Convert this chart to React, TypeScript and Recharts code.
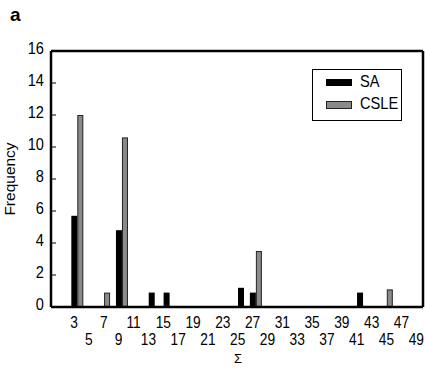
import React from "react";
import { BarChart, Bar, XAxis, YAxis, Label, ReferenceLine } from "recharts";

// Σ categories 0..49
const sums = [
  0, 1, 2, 3, 4, 5, 6, 7, 8, 9, 10, 11, 12, 13, 14, 15, 16, 17, 18, 19, 20, 21,
  22, 23, 24, 25, 26, 27, 28, 29, 30, 31, 32, 33, 34, 35, 36, 37, 38, 39, 40, 41,
  42, 43, 44, 45, 46, 47, 48, 49,
];

// frequencies, one per category
const saFreq = [
  0, 0, 0, 5.7, 0, 0, 0, 0, 0, 4.8, 0, 0, 0, 0.9, 0, 0.9, 0, 0, 0, 0, 0, 0, 0, 0,
  0, 1.2, 0, 0.9, 0, 0, 0, 0, 0, 0, 0, 0, 0, 0, 0, 0, 0, 0.9, 0, 0, 0, 0, 0, 0, 0,
  0,
];
const csleFreq = [
  0, 0, 0, 12, 0, 0, 0, 0.9, 0, 10.6, 0, 0, 0, 0, 0, 0, 0, 0, 0, 0, 0, 0, 0, 0, 0,
  0, 0, 3.5, 0, 0, 0, 0, 0, 0, 0, 0, 0, 0, 0, 0, 0, 0, 0, 0, 0, 1.1, 0, 0, 0, 0,
];

const yTicks = [0, 2, 4, 6, 8, 10, 12, 14, 16];
const topRowLabels = [3, 7, 11, 15, 19, 23, 27, 31, 35, 39, 43, 47];
const bottomRowLabels = [5, 9, 13, 17, 21, 25, 29, 33, 37, 41, 45, 49];

const data = sums.map((v, i) => ({ v, sa: saFreq[i], csle: csleFreq[i] }));

const FONT = "'Liberation Sans', Arial, sans-serif";
const NARROW = 0.86;
const BAR_W = 6;
const GRAY = "#8a8a8a";

const SaShape = (props: any) => {
  const { x, y, width, height, payload } = props;
  if (!height || height <= 0) return null;
  const center = x + width;
  const left = payload.csle > 0 ? center - BAR_W : center - BAR_W / 2;
  return <rect x={left} y={y} width={BAR_W} height={height} fill="#000" />;
};

const CsleShape = (props: any) => {
  const { x, y, height, payload } = props;
  if (!height || height <= 0) return null;
  const left = payload.sa > 0 ? x : x - BAR_W / 2;
  return (
    <rect
      x={left + 0.5}
      y={y + 0.5}
      width={BAR_W - 1}
      height={height - 0.5}
      fill={GRAY}
      stroke="#222"
      strokeWidth={1}
    />
  );
};

const SumTick = (props: any) => {
  const { x, payload } = props;
  const v = payload.value;
  let base = 0;
  if (topRowLabels.includes(v)) base = 328;
  else if (bottomRowLabels.includes(v)) base = 345;
  else return null;
  return (
    <text
      transform={`translate(${x - 3},${base}) scale(${NARROW},1)`}
      textAnchor="middle"
      fontFamily={FONT}
      fontSize={16}
      fill="#000"
    >
      {v}
    </text>
  );
};

const FreqTick = (props: any) => {
  const { x, y, payload } = props;
  return (
    <text
      transform={`translate(${x},${y + 3}) scale(${NARROW},1)`}
      textAnchor="end"
      fontFamily={FONT}
      fontSize={17}
      fill="#000"
    >
      {payload.value}
    </text>
  );
};

const LegendBox = () => (
  <div
    style={{
      position: "absolute",
      left: 312,
      top: 69,
      border: "1.5px solid #000",
      width: 90,
      height: 52,
      background: "#fff",
      fontFamily: FONT,
      fontSize: 17,
      boxSizing: "border-box",
    }}
  >
    <span style={{ position: "absolute", left: 13, top: 9, width: 26, height: 7, background: "#000" }} />
    <span
      style={{
        position: "absolute",
        left: 47,
        top: 2,
        transform: `scaleX(${NARROW})`,
        transformOrigin: "left center",
      }}
    >
      SA
    </span>
    <span
      style={{
        position: "absolute",
        left: 13,
        top: 31,
        width: 24,
        height: 6,
        background: GRAY,
        border: "1px solid #222",
      }}
    />
    <span
      style={{
        position: "absolute",
        left: 47,
        top: 24,
        transform: `scaleX(${NARROW})`,
        transformOrigin: "left center",
      }}
    >
      CSLE
    </span>
  </div>
);

export default function App() {
  return (
    <div style={{ position: "absolute", left: 0, top: 0, width: 425, height: 368 }}>
      <div
        style={{
          position: "absolute",
          left: 10,
          top: 4,
          fontFamily: FONT,
          fontWeight: "bold",
          fontSize: 19,
        }}
      >
        a
      </div>
      <BarChart
        width={425}
        height={368}
        data={data}
        margin={{ top: 51, right: 2, bottom: 0, left: 0 }}
        barGap={0}
        barCategoryGap={0}
      >
        <XAxis
          dataKey="v"
          interval={0}
          tick={<SumTick />}
          tickLine={false}
          height={61}
          axisLine={{ stroke: "#000", strokeWidth: 2.5 }}
        >
          <Label
            content={() => (
              <text x={238} y={363} textAnchor="middle" fontFamily={FONT} fontSize={13} fill="#000">
                Σ
              </text>
            )}
          />
        </XAxis>
        <YAxis
          domain={[0, 16]}
          ticks={yTicks}
          width={51}
          tickSize={-5}
          tickMargin={12}
          tickLine={{ stroke: "#000" }}
          axisLine={{ stroke: "#000", strokeWidth: 2.5 }}
          tick={<FreqTick />}
        >
          <Label
            content={() => (
              <text
                x={15}
                y={179}
                transform="rotate(-90 15 179)"
                textAnchor="middle"
                fontFamily={FONT}
                fontSize={15.5}
                fill="#000"
              >
                Frequency
              </text>
            )}
          />
        </YAxis>
        <ReferenceLine y={16} stroke="#000" strokeWidth={2.5} />
        <ReferenceLine x={49} position="end" stroke="#000" strokeWidth={2.5} />
        <Bar dataKey="sa" name="SA" fill="#000" shape={<SaShape />} isAnimationActive={false} />
        <Bar dataKey="csle" name="CSLE" fill={GRAY} shape={<CsleShape />} isAnimationActive={false} />
      </BarChart>
      <LegendBox />
    </div>
  );
}
